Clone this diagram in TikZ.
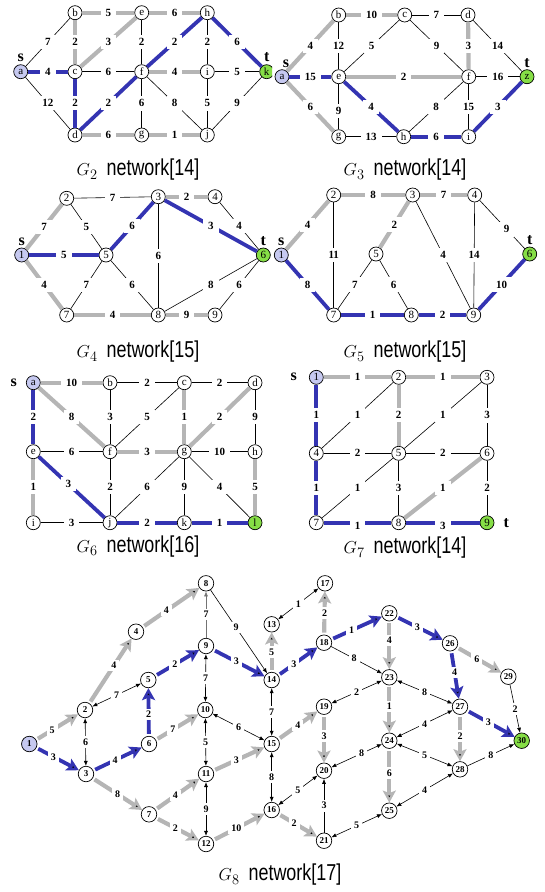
\documentclass[tikz,border=0pt]{standalone}
\usepackage{fontspec}
\setmainfont{Liberation Serif}
\newfontfamily\capfont[FakeStretch=0.78]{Liberation Sans}
\usetikzlibrary{arrows.meta,positioning}
\definecolor{pathblue}{HTML}{3434B2}
\definecolor{pathgray}{HTML}{B5B5B5}
\definecolor{srcfill}{HTML}{C6C9F0}
\definecolor{tgtfill}{HTML}{86DE46}
\newcommand{\netcap}[2]{{\fontsize{19}{19}\selectfont$G_{#1}$}\hspace{9pt}{\capfont\fontsize{23}{23}\selectfont network[#2]}}
\tikzset{
    vertex/.style = {
        draw = black,
        line width = 0.7pt,
        circle,
        fill = white,
        minimum size = 14pt,
        inner sep = 0pt,
        font = \fontsize{11}{11}\selectfont
    },
    src/.style = {vertex, fill = srcfill},
    tgt/.style = {vertex, fill = tgtfill},
    nvertex/.style = {vertex, minimum size = 15.5pt, font = \fontsize{9}{9}\selectfont\bfseries},
    nsrc/.style = {nvertex, fill = srcfill},
    ntgt/.style = {nvertex, fill = tgtfill},
    wt/.style = {
        fill = white,
        inner xsep = 5pt,
        inner ysep = 3.5pt,
        font = \fontsize{11}{11}\selectfont\bfseries
    },
    wtn/.style = {wt, inner xsep = 3pt, inner ysep = 2.5pt, font = \fontsize{10}{10}\selectfont\bfseries},
    stlabel/.style = {inner sep = 0pt, font = \fontsize{16}{16}\selectfont\bfseries},
    tedge/.style = {draw = black, line width = 0.6pt},
    gedge/.style = {draw = pathgray, line width = 4.2pt},
    bedge/.style = {draw = pathblue, line width = 3.8pt},
    garc/.style = {gedge, shorten < = 2pt, arrows = {-Stealth[length=12pt,width=13pt,inset=2.5pt]}},
    barc/.style = {bedge, shorten < = 2pt, arrows = {-Stealth[length=12pt,width=13pt,inset=2.5pt]}},
    sarc/.style = {tedge, arrows = {-Latex[length=5pt,width=4pt]}},
    darc/.style = {tedge, arrows = {Latex[length=5pt,width=4pt]-Latex[length=5pt,width=4pt]}}
}
\begin{document}
\begin{tikzpicture}[x=1pt, y=-1pt]
\useasboundingbox (0,0) rectangle (544,892);

%G2
\begin{scope}
\clip (0,0) rectangle (272,176);
\node (g2a) [src] at (20.7,71.7) {a};
\node (g2b) [vertex] at (75,12.7) {b};
\node (g2e) [vertex] at (141.7,12.7) {e};
\node (g2h) [vertex] at (207.3,12.7) {h};
\node (g2c) [vertex] at (75,71.7) {c};
\node (g2f) [vertex] at (141.7,71.7) {f};
\node (g2i) [vertex] at (207.3,71.7) {i};
\node (g2t) [tgt] at (266.7,71.7) {k};
\node (g2d) [vertex] at (75,135) {d};
\node (g2g) [vertex] at (141.7,135) {g};
\node (g2j) [vertex] at (207.3,135) {j};
\node (s2) [stlabel, above = 2pt of g2a] {s};
\node (t2) [stlabel, above = 2pt of g2t] {t};
\path[gedge] (g2b) edge node[wt]{5} (g2e)
    (g2e) edge node[wt]{6} (g2h)
    (g2b) edge node[wt]{2} (g2c)
    (g2c) edge node[wt]{3} (g2e)
    (g2f) edge node[wt]{4} (g2i)
    (g2d) edge node[wt]{6} (g2g)
    (g2g) edge node[wt]{1} (g2j);
\path[tedge] (g2a) edge node[wt]{7} (g2b)
    (g2a) edge node[wt]{12} (g2d)
    (g2e) edge node[wt]{2} (g2f)
    (g2h) edge node[wt]{2} (g2i)
    (g2c) edge node[wt]{6} (g2f)
    (g2i) edge node[wt]{5} (g2t)
    (g2f) edge node[wt]{6} (g2g)
    (g2f) edge node[wt]{8} (g2j)
    (g2i) edge node[wt]{5} (g2j)
    (g2j) edge node[wt]{9} (g2t);
\path[bedge] (g2a) edge node[wt]{4} (g2c)
    (g2c) edge node[wt]{2} (g2d)
    (g2d) edge node[wt]{2} (g2f)
    (g2f) edge node[wt]{2} (g2h)
    (g2h) edge node[wt]{6} (g2t);
\end{scope}
\node (cap2) at (138,170) {\netcap{2}{14}};

%G3
\node (g3a) [src] at (282,76.7) {a};
\node (g3b) [vertex] at (338.7,15) {b};
\node (g3c) [vertex] at (404.7,15) {c};
\node (g3d) [vertex] at (468,15) {d};
\node (g3e) [vertex] at (338.7,76.7) {e};
\node (g3f) [vertex] at (468.7,76.7) {f};
\node (g3z) [tgt] at (527,76.7) {z};
\node (g3g) [vertex] at (338.7,136.7) {g};
\node (g3h) [vertex] at (403.7,136.7) {h};
\node (g3i) [vertex] at (468.7,136.7) {i};
\node (s3) [stlabel, above = 1pt of g3a, xshift = 4pt] {s};
\node (t3) [stlabel, above = 1pt of g3z] {t};
\path[gedge] (g3a) edge node[wt]{4} (g3b)
    (g3a) edge node[wt]{6} (g3g)
    (g3b) edge node[wt]{10} (g3c)
    (g3d) edge node[wt]{3} (g3f)
    (g3e) edge node[wt]{2} (g3f);
\path[tedge] (g3c) edge node[wt]{7} (g3d)
    (g3b) edge node[wt]{12} (g3e)
    (g3c) edge node[wt]{5} (g3e)
    (g3c) edge node[wt]{9} (g3f)
    (g3d) edge node[wt]{14} (g3z)
    (g3f) edge node[wt]{16} (g3z)
    (g3e) edge node[wt, pos=0.6]{9} (g3g)
    (g3f) edge node[wt]{8} (g3h)
    (g3f) edge node[wt]{15} (g3i)
    (g3g) edge node[wt]{13} (g3h);
\path[bedge] (g3a) edge node[wt]{15} (g3e)
    (g3e) edge node[wt]{4} (g3h)
    (g3h) edge node[wt]{6} (g3i)
    (g3i) edge node[wt]{3} (g3z);
\node (cap3) at (405,170) {\netcap{3}{14}};

%G4
\begin{scope}
\clip (0,176) rectangle (272,345);
\node (g4n1) [src] at (21.7,255) {1};
\node (g4n2) [vertex] at (66.7,198.3) {2};
\node (g4n3) [vertex] at (158.3,196.7) {3};
\node (g4n4) [vertex] at (215,196.7) {4};
\node (g4n5) [vertex] at (106,255) {5};
\node (g4n6) [tgt] at (263.3,255) {6};
\node (g4n7) [vertex] at (66.7,315) {7};
\node (g4n8) [vertex] at (158.3,315) {8};
\node (g4n9) [vertex] at (215,315) {9};
\node (s4) [stlabel, above = 2pt of g4n1] {s};
\node (t4) [stlabel, above = 2pt of g4n6] {t};
\path[gedge] (g4n1) edge node[wt]{7} (g4n2)
    (g4n1) edge node[wt]{4} (g4n7)
    (g4n3) edge node[wt]{2} (g4n4)
    (g4n7) edge node[wt]{4} (g4n8)
    (g4n8) edge node[wt]{9} (g4n9);
\path[tedge] (g4n2) edge node[wt]{7} (g4n3)
    (g4n2) edge node[wt]{5} (g4n5)
    (g4n3) edge node[wt]{6} (g4n8)
    (g4n4) edge node[wt]{4} (g4n6)
    (g4n5) edge node[wt]{7} (g4n7)
    (g4n5) edge node[wt]{6} (g4n8)
    (g4n6) edge node[wt]{8} (g4n8)
    (g4n6) edge node[wt]{6} (g4n9);
\path[bedge] (g4n1) edge node[wt]{5} (g4n5)
    (g4n5) edge node[wt]{6} (g4n3)
    (g4n3) edge node[wt]{3} (g4n6);
\end{scope}
\node (cap4) at (138,352) {\netcap{4}{15}};

%G5
\node (g5n1) [src] at (281.3,255) {1};
\node (g5n2) [vertex] at (333.7,195) {2};
\node (g5n3) [vertex] at (412.7,195) {3};
\node (g5n4) [vertex] at (474.7,195) {4};
\node (g5n5) [vertex] at (376,254) {5};
\node (g5n6) [tgt] at (529.7,254) {6};
\node (g5n7) [vertex] at (333.7,315) {7};
\node (g5n8) [vertex] at (411.3,315) {8};
\node (g5n9) [vertex] at (473.7,315) {9};
\node (s5) [stlabel, above = 2pt of g5n1] {s};
\node (t5) [stlabel, above = 2pt of g5n6] {t};
\path[gedge] (g5n1) edge node[wt]{4} (g5n2)
    (g5n2) edge node[wt]{8} (g5n3)
    (g5n3) edge node[wt]{7} (g5n4)
    (g5n3) edge node[wt]{2} (g5n5);
\path[tedge] (g5n2) edge[line width = 1.1pt] node[wt]{11} (g5n7)
    (g5n3) edge node[wt]{4} (g5n9)
    (g5n4) edge node[wt]{14} (g5n9)
    (g5n4) edge node[wt, pos=0.6]{9} (g5n6)
    (g5n5) edge node[wt]{7} (g5n7)
    (g5n5) edge node[wt]{6} (g5n8);
\path[bedge] (g5n1) edge node[wt]{8} (g5n7)
    (g5n7) edge node[wt]{1} (g5n8)
    (g5n8) edge node[wt]{2} (g5n9)
    (g5n9) edge node[wt]{10} (g5n6);
\node (cap5) at (405,352) {\netcap{5}{15}};

%G6
\node (g6a) [src] at (33.3,382.7) {a};
\node (g6b) [vertex] at (110,382.7) {b};
\node (g6c) [vertex] at (184.3,382.7) {c};
\node (g6d) [vertex] at (255,382.7) {d};
\node (g6e) [vertex] at (33.3,451.7) {e};
\node (g6f) [vertex] at (110,451.7) {f};
\node (g6g) [vertex] at (184.3,451.7) {g};
\node (g6h) [vertex] at (255,451.7) {h};
\node (g6i) [vertex] at (33.3,522.7) {i};
\node (g6j) [vertex] at (110,522.7) {j};
\node (g6k) [vertex] at (184.3,522.7) {k};
\node (g6l) [tgt] at (255,522.7) {l};
\node (s6) [stlabel, left = 9pt of g6a] {s};
\path[gedge] (g6a) edge node[wt]{10} (g6b)
    (g6a) edge node[wt]{8} (g6f)
    (g6c) edge node[wt]{1} (g6g)
    (g6d) edge node[wt]{2} (g6g)
    (g6f) edge node[wt]{3} (g6g)
    (g6e) edge node[wt]{1} (g6i)
    (g6h) edge node[wt]{5} (g6l);
\path[tedge] (g6b) edge node[wt]{2} (g6c)
    (g6c) edge node[wt]{2} (g6d)
    (g6b) edge node[wt]{3} (g6f)
    (g6c) edge node[wt]{5} (g6f)
    (g6d) edge node[wt]{9} (g6h)
    (g6e) edge node[wt]{6} (g6f)
    (g6g) edge node[wt]{10} (g6h)
    (g6f) edge node[wt]{2} (g6j)
    (g6g) edge node[wt]{6} (g6j)
    (g6g) edge node[wt]{9} (g6k)
    (g6g) edge node[wt]{4} (g6l)
    (g6i) edge node[wt]{3} (g6j);
\path[bedge] (g6a) edge node[wt]{2} (g6e)
    (g6e) edge node[wt, pos=0.45]{3} (g6j)
    (g6j) edge node[wt]{2} (g6k)
    (g6k) edge node[wt]{1} (g6l);
\node (cap6) at (138,546.7) {\netcap{6}{16}};

%G7
\node (g7n1) [src] at (316.3,377.3) {1};
\node (g7n2) [vertex] at (398.7,377.3) {2};
\node (g7n3) [vertex] at (487,377.3) {3};
\node (g7n4) [vertex] at (316.3,453.3) {4};
\node (g7n5) [vertex] at (398.7,453.3) {5};
\node (g7n6) [vertex] at (487,453.3) {6};
\node (g7n7) [vertex] at (316.3,522.7) {7};
\node (g7n8) [vertex] at (398.7,522.7) {8};
\node (g7n9) [tgt] at (487,522.7) {9};
\node (s7) [stlabel, left = 12pt of g7n1] {s};
\node (t7) [stlabel, right = 9pt of g7n9] {t};
\path[gedge] (g7n1) edge node[wt]{1} (g7n2)
    (g7n2) edge node[wt]{1} (g7n3)
    (g7n2) edge node[wt]{2} (g7n5)
    (g7n6) edge node[wt]{1} (g7n8);
\path[tedge] (g7n2) edge node[wt]{1} (g7n4)
    (g7n3) edge node[wt]{1} (g7n5)
    (g7n3) edge node[wt]{3} (g7n6)
    (g7n4) edge node[wt]{2} (g7n5)
    (g7n5) edge node[wt]{2} (g7n6)
    (g7n5) edge node[wt]{1} (g7n7)
    (g7n5) edge node[wt]{3} (g7n8)
    (g7n6) edge node[wt]{2} (g7n9);
\path[bedge] (g7n1) edge node[wt]{1} (g7n4)
    (g7n4) edge node[wt]{1} (g7n7)
    (g7n7) edge node[wt, yshift=-3pt]{1} (g7n8)
    (g7n8) edge node[wt, yshift=-3pt]{3} (g7n9);
\node (cap7) at (405,548) {\netcap{7}{14}};

%G8
\node (v1) [nsrc] at (29.3,744) {1};
\node (v2) [nvertex] at (85,710) {2};
\node (v3) [nvertex] at (86,774) {3};
\node (v4) [nvertex] at (136,631.7) {4};
\node (v5) [nvertex] at (148.3,680) {5};
\node (v6) [nvertex] at (149,744) {6};
\node (v7) [nvertex] at (149,814.3) {7};
\node (v8) [nvertex] at (206,583.3) {8};
\node (v9) [nvertex] at (206,646) {9};
\node (v10) [nvertex] at (205.3,710) {10};
\node (v11) [nvertex] at (206,774) {11};
\node (v12) [nvertex] at (206,844) {12};
\node (v13) [nvertex] at (271.7,624.3) {13};
\node (v14) [nvertex] at (271.7,680) {14};
\node (v15) [nvertex] at (271.7,744) {15};
\node (v16) [nvertex] at (271.7,810) {16};
\node (v17) [nvertex] at (325,583.3) {17};
\node (v18) [nvertex] at (324,642.7) {18};
\node (v19) [nvertex] at (324,706.7) {19};
\node (v20) [nvertex] at (324,770.7) {20};
\node (v21) [nvertex] at (324,840.7) {21};
\node (v22) [nvertex] at (389.3,613.3) {22};
\node (v23) [nvertex] at (389.3,677.3) {23};
\node (v24) [nvertex] at (389.3,740.7) {24};
\node (v25) [nvertex] at (389.3,810.7) {25};
\node (v26) [nvertex] at (450,643.3) {26};
\node (v27) [nvertex] at (460,706.7) {27};
\node (v28) [nvertex] at (460,769.3) {28};
\node (v29) [nvertex] at (508.3,676.7) {29};
\node (v30) [ntgt] at (521.7,740.7) {30};
\path[garc] (v1) edge node[wtn, pos=0.38]{5} (v2)
    (v2) edge node[wtn, pos=0.58]{4} (v4)
    (v4) edge node[wtn, pos=0.42]{4} (v8)
    (v3) edge node[wtn]{8} (v7)
    (v6) edge node[wtn, pos=0.4]{7} (v10)
    (v7) edge node[wtn, pos=0.45]{4} (v11)
    (v7) edge node[wtn, pos=0.45]{2} (v12)
    (v11) edge node[wtn, pos=0.45]{3} (v15)
    (v12) edge node[wtn, pos=0.45]{10} (v16)
    (v14) edge node[wtn]{5} (v13)
    (v18) edge node[wtn]{2} (v17)
    (v15) edge node[wtn]{4} (v19)
    (v16) edge node[wtn, pos=0.4]{2} (v21)
    (v19) edge node[wtn, pos=0.45]{3} (v20)
    (v22) edge node[wtn, pos=0.4]{4} (v23)
    (v23) edge node[wtn, pos=0.45]{1} (v24)
    (v24) edge node[wtn, pos=0.45]{6} (v25)
    (v26) edge node[wtn, pos=0.45]{6} (v29)
    (v27) edge node[wtn, pos=0.45]{2} (v28);
\path[sarc] (v9) edge[draw = black!55] node[wtn]{7} (v8)
    (v8) edge node[wtn, pos=0.45]{9} (v14)
    (v18) edge node[wtn, pos=0.45]{8} (v23)
    (v21) edge node[wtn]{3} (v20)
    (v28) edge node[wtn]{8} (v30)
    (v29) edge node[wtn]{2} (v30);
\path[darc] (v2) edge node[wtn]{6} (v3)
    (v2) edge node[wtn]{7} (v5)
    (v9) edge node[wtn]{7} (v10)
    (v10) edge node[wtn]{5} (v11)
    (v11) edge node[wtn]{9} (v12)
    (v10) edge node[wtn]{6} (v15)
    (v14) edge node[wtn]{7} (v15)
    (v15) edge node[wtn]{8} (v16)
    (v16) edge node[wtn]{5} (v20)
    (v13) edge node[wtn]{1} (v17)
    (v19) edge node[wtn]{2} (v23)
    (v23) edge node[wtn]{8} (v27)
    (v24) edge node[wtn]{4} (v27)
    (v20) edge node[wtn, pos=0.6]{8} (v24)
    (v24) edge node[wtn]{5} (v28)
    (v21) edge node[wtn]{5} (v25)
    (v25) edge node[wtn]{4} (v28);
\path[barc] (v1) edge node[wtn, pos=0.4]{3} (v3)
    (v3) edge node[wtn, pos=0.45]{4} (v6)
    (v6) edge node[wtn, pos=0.45]{2} (v5)
    (v5) edge node[wtn, pos=0.45]{2} (v9)
    (v9) edge node[wtn, pos=0.45]{3} (v14)
    (v14) edge node[wtn, pos=0.4]{3} (v18)
    (v18) edge node[wtn, pos=0.4]{1} (v22)
    (v22) edge node[wtn, pos=0.45]{3} (v26)
    (v26) edge node[wtn, pos=0.45]{4} (v27)
    (v27) edge node[wtn, pos=0.45]{3} (v30);
\node (cap8) at (280,875) {\netcap{8}{17}};
\end{tikzpicture}
\end{document}
